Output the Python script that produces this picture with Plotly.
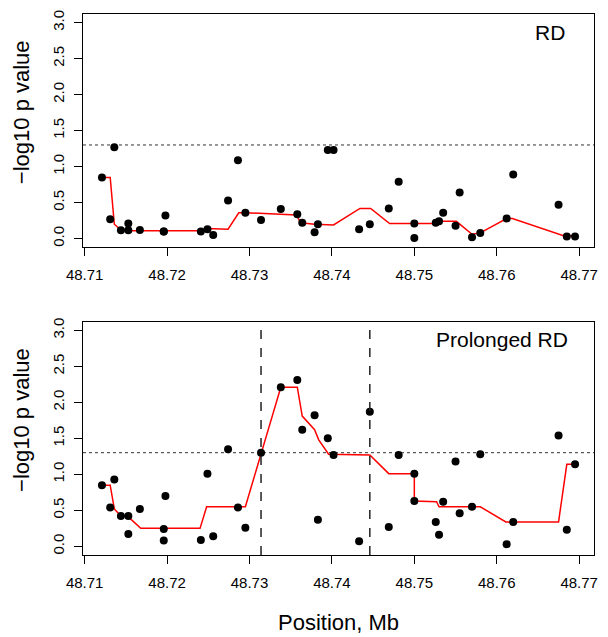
import plotly.graph_objects as go

# SNP positions (Mb)
pos = [48.7121, 48.7131, 48.7136, 48.7144, 48.7153, 48.7153, 48.7167, 48.7196, 48.7196, 48.7198,
       48.7241, 48.7249, 48.7256, 48.7274, 48.7286, 48.7295, 48.7314, 48.7338, 48.7358, 48.7364,
       48.7379, 48.7383, 48.7395, 48.7402, 48.7433, 48.7446, 48.7469, 48.7481, 48.7500, 48.7500,
       48.7526, 48.7530, 48.7535, 48.7550, 48.7555, 48.7570, 48.7580, 48.7612, 48.7620, 48.7675,
       48.7685, 48.7695]

# -log10 p, RD
rd_p = [0.85, 0.27, 1.27, 0.115, 0.115, 0.21, 0.12, 0.10, 0.10, 0.32,
        0.10, 0.13, 0.05, 0.53, 1.09, 0.36, 0.26, 0.41, 0.34, 0.22,
        0.09, 0.20, 1.23, 1.23, 0.13, 0.20, 0.42, 0.79, 0.21, 0.01,
        0.22, 0.24, 0.36, 0.18, 0.64, 0.02, 0.08, 0.28, 0.89, 0.47,
        0.03, 0.03]

# -log10 p, prolonged RD
prd_p = [0.85, 0.54, 0.93, 0.42, 0.42, 0.17, 0.52, 0.24, 0.08, 0.70,
         0.09, 1.01, 0.14, 1.35, 0.54, 0.26, 1.30, 2.21, 2.31, 1.62,
         1.82, 0.37, 1.50, 1.27, 0.07, 1.87, 0.27, 1.27, 1.01, 0.63,
         0.34, 0.16, 0.62, 1.18, 0.46, 0.55, 1.28, 0.03, 0.34, 1.54,
         0.23, 1.14]

# smoothed curves (red lines)
rd_line_x = [48.7121, 48.7131, 48.7136, 48.7144, 48.7153, 48.7241, 48.7249, 48.7274, 48.7287,
             48.7295, 48.7357, 48.7362, 48.7379, 48.7402, 48.7434, 48.7447, 48.7470, 48.7526,
             48.7531, 48.7551, 48.7570, 48.7580, 48.7612, 48.7619, 48.7681, 48.7695]
rd_line_y = [0.85, 0.85, 0.20, 0.12, 0.11, 0.11, 0.14, 0.13, 0.36,
             0.36, 0.33, 0.22, 0.20, 0.19, 0.42, 0.42, 0.21, 0.21,
             0.24, 0.24, 0.06, 0.08, 0.28, 0.28, 0.04, 0.04]

prd_line_x = [48.7121, 48.7131, 48.7136, 48.7144, 48.7153, 48.7168, 48.7240, 48.7248, 48.7295,
              48.7314, 48.7338, 48.7358, 48.7364, 48.7379, 48.7384, 48.7396, 48.7401, 48.7446,
              48.7469, 48.7500, 48.7500, 48.7527, 48.7530, 48.7580, 48.7611, 48.7675, 48.7685,
              48.7695]
prd_line_y = [0.85, 0.85, 0.52, 0.42, 0.41, 0.25, 0.25, 0.55, 0.55,
              1.30, 2.21, 2.21, 1.81, 1.62, 1.48, 1.28, 1.28, 1.27,
              1.01, 1.01, 0.63, 0.62, 0.55, 0.55, 0.34, 0.34, 1.14,
              1.14]

threshold = 1.301
window = [48.7314, 48.7446]

x_range = [48.7098, 48.7718]
y_range = [-0.12, 3.12]
x_ticks = [48.71, 48.72, 48.73, 48.74, 48.75, 48.76, 48.77]
y_ticks = [0, 0.5, 1, 1.5, 2, 2.5, 3]

FONT = "Liberation Sans, Arial, sans-serif"

fig = go.Figure()

panels = [("x", "y", rd_p, rd_line_x, rd_line_y),
          ("x2", "y2", prd_p, prd_line_x, prd_line_y)]
for xa, ya, vals, lx, ly in panels:
    fig.add_trace(go.Scatter(x=x_range, y=[threshold, threshold], mode="lines",
                             line=dict(color="#333", width=1, dash="dot"),
                             xaxis=xa, yaxis=ya, showlegend=False, hoverinfo="skip"))
    fig.add_trace(go.Scatter(x=lx, y=ly, mode="lines", line=dict(color="red", width=1.5),
                             xaxis=xa, yaxis=ya, showlegend=False))
    fig.add_trace(go.Scatter(x=pos, y=vals, mode="markers",
                             marker=dict(color="black", size=8),
                             xaxis=xa, yaxis=ya, showlegend=False))

for w in window:
    fig.add_trace(go.Scatter(x=[w, w], y=y_range, mode="lines",
                             line=dict(color="#222", width=1.5, dash="dash"),
                             xaxis="x2", yaxis="y2", showlegend=False, hoverinfo="skip"))

axis_common = dict(showline=True, linecolor="black", linewidth=1, mirror=True,
                   ticks="outside", ticklen=8, tickwidth=1, tickcolor="black",
                   showgrid=False, zeroline=False,
                   tickfont=dict(family=FONT, size=15, color="black"))

xax = dict(axis_common, range=x_range, tickvals=x_ticks, tickformat=".2f", ticklabelstandoff=6)
yax = dict(axis_common, range=y_range, tickvals=y_ticks, tickformat=".1f", tickangle=-90,
           ticklabelstandoff=4)

fig.update_layout(
    width=608, height=637,
    margin=dict(l=83, r=14, t=10, b=82),
    paper_bgcolor="white", plot_bgcolor="white",
    xaxis=dict(xax, domain=[0, 1], anchor="y"),
    yaxis=dict(yax, domain=[0.5688, 1], anchor="x"),
    xaxis2=dict(xax, domain=[0, 1], anchor="y2"),
    yaxis2=dict(yax, domain=[0, 0.4312], anchor="x2"),
    annotations=[
        dict(text="RD", xref="paper", yref="paper", x=0.947, y=0.966, xanchor="right",
             yanchor="middle", showarrow=False, font=dict(family=FONT, size=21, color="black")),
        dict(text="Prolonged RD", xref="paper", yref="paper", x=0.953, y=0.398, xanchor="right",
             yanchor="middle", showarrow=False, font=dict(family=FONT, size=21, color="black")),
        dict(text="\u2212log10 p value", xref="paper", yref="paper", x=-0.12, y=0.818,
             textangle=-90, xanchor="center", yanchor="middle", showarrow=False,
             font=dict(family=FONT, size=22, color="black")),
        dict(text="\u2212log10 p value", xref="paper", yref="paper", x=-0.12, y=0.249,
             textangle=-90, xanchor="center", yanchor="middle", showarrow=False,
             font=dict(family=FONT, size=22, color="black")),
        dict(text="Position, Mb", xref="paper", yref="paper", x=0.5, y=-0.125,
             xanchor="center", yanchor="middle", showarrow=False,
             font=dict(family=FONT, size=22, color="black")),
    ],
)

fig.write_html("out.html", post_script="document.body.style.margin='0';",
               config={"displayModeBar": False})
